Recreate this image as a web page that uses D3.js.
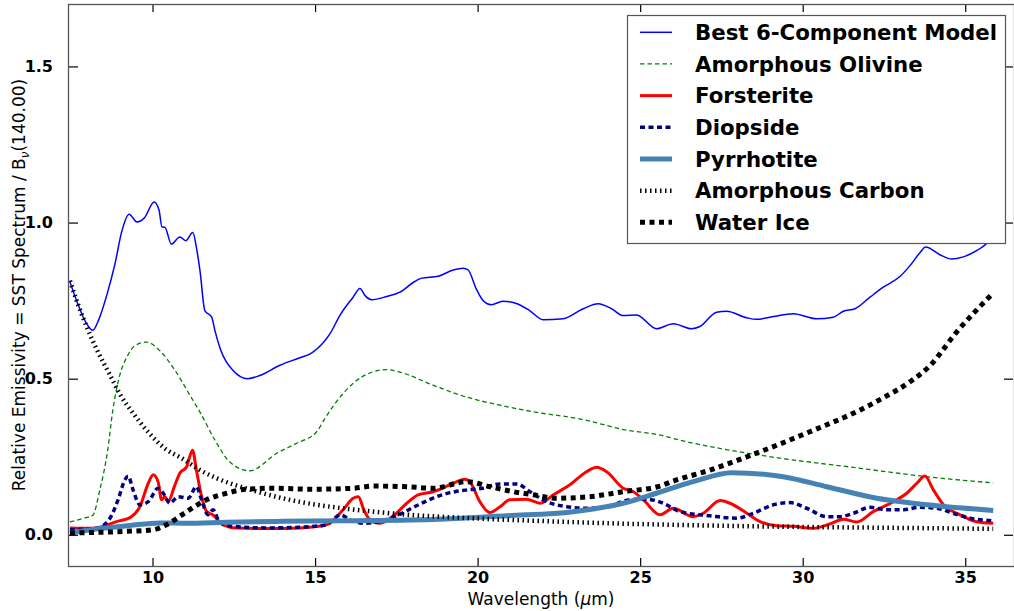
<!DOCTYPE html>
<html>
<head>
<meta charset="utf-8">
<script src="https://cdn.jsdelivr.net/npm/d3@7"></script>
<style>
  html, body { margin: 0; padding: 0; background: #fff; }
  svg { display: block; font-family: "DejaVu Sans", sans-serif; }
</style>
</head>
<body>
<svg id="chart" width="1014" height="611"></svg>
<script>
// Spectral decomposition: wavelength (µm) vs relative emissivity
const xTicks = [10, 15, 20, 25, 30, 35];
const yTicks = [0.0, 0.5, 1.0, 1.5];
const seriesNames = ["Best 6-Component Model", "Amorphous Olivine", "Forsterite",
  "Diopside", "Pyrrhotite", "Amorphous Carbon", "Water Ice"];

const bestModel = [
  [7.46,0.81],[7.7,0.74],[7.95,0.68],[8.16,0.655],[8.35,0.69],[8.6,0.77],[8.85,0.87],
  [9.05,0.97],[9.28,1.027],[9.52,1.002],[9.75,1.015],[10.05,1.066],[10.2,1.04],[10.29,0.986],
  [10.38,0.985],[10.58,0.931],[10.84,0.954],[11.02,0.942],[11.24,0.968],[11.35,0.92],
  [11.46,0.846],[11.61,0.718],[11.82,0.697],[11.92,0.654],[12.07,0.60],[12.47,0.527],
  [12.93,0.50],[13.3,0.51],[13.92,0.543],[14.53,0.567],[14.89,0.582],[15.46,0.644],
  [15.76,0.702],[16.17,0.761],[16.38,0.789],[16.54,0.766],[16.74,0.753],[17.2,0.763],
  [17.61,0.777],[18.02,0.808],[18.28,0.822],[18.79,0.828],[19.25,0.848],[19.56,0.854],
  [19.71,0.848],[19.96,0.787],[20.17,0.75],[20.42,0.737],[20.78,0.748],[21.19,0.741],
  [21.6,0.718],[22.01,0.689],[22.63,0.692],[23.25,0.724],[23.71,0.74],[24.12,0.724],
  [24.48,0.702],[24.89,0.704],[25.5,0.66],[26.02,0.676],[26.58,0.66],[26.84,0.667],
  [27.35,0.713],[27.66,0.716],[28.28,0.695],[28.58,0.69],[29.1,0.699],[29.71,0.708],
  [30.43,0.692],[30.94,0.697],[31.25,0.716],[31.61,0.724],[32.07,0.761],[32.48,0.793],
  [32.99,0.827],[33.3,0.862],[33.61,0.904],[33.78,0.922],[34.22,0.897],[34.58,0.883],
  [34.94,0.890],[35.35,0.91],[35.66,0.933],[35.86,0.955]
];

const amorphousOlivine = [
  [7.46,0.041],[7.92,0.054],[8.16,0.062],[8.38,0.144],[8.62,0.27],[8.78,0.40],[8.99,0.51],
  [9.24,0.575],[9.46,0.606],[9.82,0.617],[10.22,0.59],[10.69,0.527],[11.15,0.447],
  [11.46,0.393],[11.92,0.303],[12.38,0.233],[12.99,0.205],[13.82,0.261],[14.43,0.293],
  [15.05,0.33],[15.3,0.372],[15.86,0.452],[16.43,0.505],[17.2,0.529],[17.61,0.521],
  [18.63,0.479],[19.66,0.441],[20.69,0.415],[21.71,0.394],[23.25,0.369],[24.48,0.337],
  [25.62,0.319],[26.23,0.303],[28.69,0.255],[31.77,0.213],[33.82,0.186],[35.86,0.166]
];

const forsterite = [
  [7.46,0.022],[8.17,0.021],[8.89,0.042],[9.35,0.058],[9.61,0.09],[9.87,0.165],[10.02,0.192],
  [10.17,0.17],[10.28,0.112],[10.38,0.122],[10.48,0.106],[10.69,0.16],[10.84,0.197],
  [11.05,0.218],[11.23,0.271],[11.35,0.207],[11.51,0.122],[11.66,0.075],[11.85,0.064],
  [12.17,0.032],[12.58,0.022],[13.51,0.02],[14.53,0.022],[15.35,0.032],[15.86,0.08],
  [16.17,0.117],[16.33,0.122],[16.5,0.08],[16.74,0.042],[16.99,0.037],[17.45,0.064],
  [17.82,0.101],[18.17,0.128],[18.63,0.138],[19.15,0.16],[19.61,0.178],[19.76,0.17],
  [20.07,0.106],[20.38,0.071],[20.69,0.09],[20.99,0.112],[21.5,0.114],[21.92,0.101],
  [22.33,0.128],[22.84,0.16],[23.35,0.202],[23.66,0.216],[23.97,0.202],[24.48,0.149],
  [24.79,0.138],[25.1,0.112],[25.61,0.064],[26.02,0.085],[26.63,0.058],[26.94,0.069],
  [27.46,0.11],[27.76,0.101],[28.28,0.069],[28.69,0.042],[29.2,0.029],[29.71,0.027],
  [30.33,0.021],[30.84,0.035],[31.25,0.05],[31.66,0.041],[32.17,0.074],[32.79,0.106],
  [33.2,0.133],[33.51,0.165],[33.76,0.188],[34.02,0.144],[34.33,0.096],[34.84,0.064],
  [35.35,0.042],[35.86,0.037]
];

const diopside = [
  [7.46,0.016],[8.28,0.021],[8.69,0.053],[8.94,0.112],[9.15,0.176],[9.25,0.188],[9.4,0.144],
  [9.61,0.096],[9.87,0.106],[10.17,0.149],[10.33,0.133],[10.53,0.101],[10.79,0.122],
  [11.1,0.117],[11.35,0.154],[11.51,0.112],[11.71,0.064],[11.86,0.08],[12.07,0.039],
  [12.48,0.027],[13.5,0.022],[14.5,0.024],[15.35,0.032],[15.66,0.058],[15.77,0.064],
  [16.07,0.048],[16.48,0.037],[16.79,0.039],[17.45,0.058],[18.12,0.093],[18.74,0.122],
  [19.3,0.138],[19.71,0.144],[20.17,0.149],[20.69,0.163],[21.2,0.163],[21.61,0.138],
  [22.12,0.106],[22.74,0.09],[23.35,0.085],[23.97,0.09],[24.69,0.112],[25.2,0.114],
  [25.71,0.101],[26.22,0.074],[27.14,0.061],[27.97,0.053],[28.48,0.069],[29.1,0.096],
  [29.61,0.103],[30.12,0.085],[30.74,0.058],[31.15,0.058],[31.56,0.069],[32.07,0.088],
  [32.58,0.08],[33.1,0.08],[33.61,0.088],[34.12,0.085],[34.63,0.069],[35.15,0.053],
  [35.86,0.045]
];

const pyrrhotite = [
  [7.46,0.006],[8.38,0.02],[9.3,0.03],[10.22,0.038],[11.0,0.037],[12.28,0.04],[14.0,0.043],
  [16.0,0.045],[18.84,0.05],[20.89,0.061],[22.94,0.074],[24.48,0.101],[25.5,0.133],
  [26.63,0.17],[27.81,0.199],[29.4,0.186],[30.74,0.154],[32.28,0.117],[33.82,0.096],
  [35.86,0.078]
];

const amorphousCarbon = [
  [7.46,0.814],[7.7,0.74],[8.0,0.66],[8.3,0.59],[8.7,0.51],[9.0,0.45],[9.4,0.39],
  [9.9,0.325],[10.4,0.275],[10.9,0.245],[11.5,0.205],[12.0,0.18],[13.0,0.145],[14.0,0.117],
  [15.0,0.097],[16.0,0.083],[17.0,0.072],[18.0,0.063],[19.0,0.057],[20.0,0.052],
  [22.0,0.044],[24.0,0.037],[26.0,0.032],[28.0,0.028],[30.0,0.025],[32.0,0.023],
  [34.0,0.021],[35.86,0.019]
];

const waterIce = [
  [7.46,0.006],[9.2,0.011],[10.02,0.016],[10.43,0.032],[11.05,0.074],[11.66,0.112],
  [12.28,0.133],[12.89,0.146],[13.71,0.149],[14.94,0.146],[16.17,0.149],[16.79,0.156],
  [17.82,0.154],[18.63,0.149],[19.66,0.17],[20.38,0.154],[21.1,0.138],[21.71,0.128],
  [22.43,0.117],[23.45,0.122],[24.48,0.138],[25.61,0.156],[26.02,0.172],[27.14,0.207],
  [28.69,0.266],[30.22,0.33],[31.77,0.40],[32.5,0.44],[33.3,0.49],[33.9,0.54],
  [34.74,0.65],[35.82,0.77]
];

const allSeries = [bestModel, amorphousOlivine, forsterite, diopside, pyrrhotite,
  amorphousCarbon, waterIce];

// Stroke styles per series (colour, width, dash)
const styles = [
  { color: "#0000ff", width: 1.5, dash: null },
  { color: "#008000", width: 1.3, dash: "4.5,3" },
  { color: "#ff0000", width: 3, dash: null },
  { color: "#000080", width: 3.5, dash: "5,3.5" },
  { color: "#4682b4", width: 5, dash: null },
  { color: "#000000", width: 4.5, dash: "1.5,3.5" },
  { color: "#000000", width: 5, dash: "5,4.5" }
];

const svg = d3.select("#chart");
const plot = { left: 68, right: 1014, top: 4, bottom: 566 };

const x = d3.scaleLinear().domain([7.4, 36.5]).range([plot.left, plot.right]);
const y = d3.scaleLinear().domain([-0.1, 1.7]).range([plot.bottom, plot.top]);

svg.append("defs").append("clipPath").attr("id", "plotClip")
  .append("rect")
  .attr("x", plot.left).attr("y", plot.top)
  .attr("width", plot.right - plot.left).attr("height", plot.bottom - plot.top);

const line = d3.line()
  .x(d => x(d[0])).y(d => y(d[1]))
  .curve(d3.curveMonotoneX);

const lines = svg.append("g").attr("clip-path", "url(#plotClip)");
allSeries.forEach((data, i) => {
  const s = styles[i];
  lines.append("path")
    .datum(data)
    .attr("d", line)
    .attr("fill", "none")
    .attr("stroke", s.color)
    .attr("stroke-width", s.width)
    .attr("stroke-dasharray", s.dash)
    .attr("stroke-linejoin", "round");
});

// Axes with inward ticks on all four sides
const boldTicks = g => g.selectAll(".tick text")
  .style("font-family", "'DejaVu Sans', sans-serif")
  .style("font-weight", "700")
  .style("font-size", "16px")
  .style("fill", "#000");

svg.append("g")
  .attr("transform", `translate(0,${plot.bottom})`)
  .call(d3.axisBottom(x).tickValues(xTicks).tickFormat(d3.format("d"))
    .tickSizeInner(-8).tickSizeOuter(0).tickPadding(6))
  .call(boldTicks);

svg.append("g")
  .attr("transform", `translate(${plot.left},0)`)
  .call(d3.axisLeft(y).tickValues(yTicks).tickFormat(d3.format(".1f"))
    .tickSizeInner(-10).tickSizeOuter(0).tickPadding(15))
  .call(boldTicks);

svg.append("g")
  .attr("transform", `translate(0,${plot.top})`)
  .call(d3.axisTop(x).tickValues(xTicks).tickFormat("").tickSizeInner(-8).tickSizeOuter(0));

svg.append("g")
  .attr("transform", `translate(${plot.right - 1},0)`)
  .call(d3.axisRight(y).tickValues(yTicks).tickFormat("").tickSizeInner(-9).tickSizeOuter(0));

svg.selectAll(".domain").remove();
svg.selectAll(".tick line").attr("stroke", "#000").attr("stroke-width", 1.2);

// Frame
svg.append("rect")
  .attr("x", plot.left + 0.5).attr("y", plot.top + 0.5)
  .attr("width", plot.right - plot.left).attr("height", plot.bottom - plot.top)
  .attr("fill", "none").attr("stroke", "#555").attr("stroke-width", 1.3);

// Axis titles
const xLabel = svg.append("text")
  .attr("x", (plot.left + plot.right) / 2).attr("y", 605)
  .attr("text-anchor", "middle")
  .attr("font-size", "17px").attr("fill", "#000");
xLabel.append("tspan").text("Wavelength (");
xLabel.append("tspan").attr("font-style", "italic").text("μ");
xLabel.append("tspan").text("m)");

const yLabel = svg.append("text")
  .attr("transform", `translate(25,${(plot.top + plot.bottom) / 2}) rotate(-90)`)
  .attr("text-anchor", "middle")
  .attr("font-size", "17px").attr("fill", "#000");
yLabel.append("tspan").text("Relative Emissivity = SST Spectrum / B");
yLabel.append("tspan").attr("font-size", "12px").attr("font-style", "italic")
  .attr("dy", "4").text("ν");
yLabel.append("tspan").attr("dy", "-4").text("(140.00)");

// Legend
const legend = svg.append("g");
legend.append("rect")
  .attr("x", 627.5).attr("y", 15.5).attr("width", 378).attr("height", 228)
  .attr("fill", "#fff").attr("stroke", "#555").attr("stroke-width", 1.2);

seriesNames.forEach((name, i) => {
  const cy = 32.3 + i * 31.67;
  const s = styles[i];
  legend.append("line")
    .attr("x1", 640).attr("x2", 672).attr("y1", cy).attr("y2", cy)
    .attr("stroke", s.color).attr("stroke-width", s.width)
    .attr("stroke-dasharray", s.dash);
  legend.append("text")
    .attr("x", 695).attr("y", cy).attr("dy", "0.36em")
    .attr("font-size", "21.3px").attr("font-weight", "bold").attr("fill", "#000")
    .text(name);
});
</script>
</body>
</html>
